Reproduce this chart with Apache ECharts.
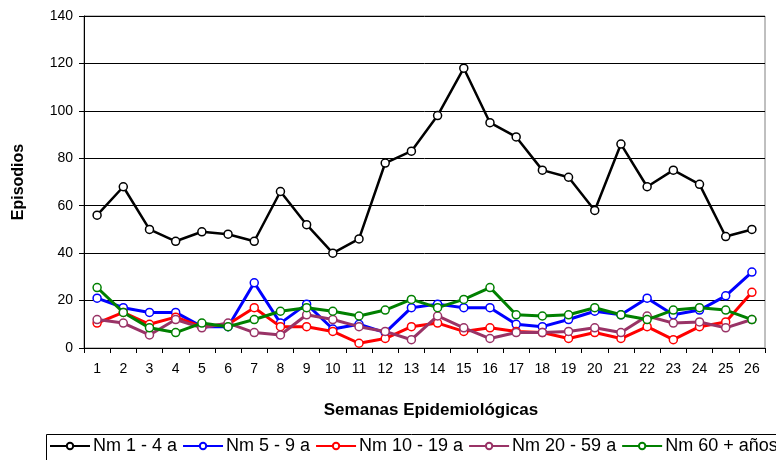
<!DOCTYPE html>
<html><head><meta charset="utf-8">
<script src="https://cdn.jsdelivr.net/npm/echarts@6/dist/echarts.min.js"></script>
<style>html,body{margin:0;padding:0;background:#fff}#c{width:776px;height:460px}</style>
</head><body><div id="c"></div>
<script>
var weeks = ['1','2','3','4','5','6','7','8','9','10','11','12','13','14','15','16','17','18','19','20','21','22','23','24','25','26'];
var nm1_4 = [56,68,50,45,49,48,45,66,52,40,46,78,83,98,118,95,89,75,72,58,86,68,75,69,47,50];
var nm5_9 = [21,17,15,15,9,9,27.5,10.5,18.5,8,10,6.5,17,18.5,17,17,10,9,12,15.5,14,21,14,16,22,32];
var nm10_19 = [10.5,15,10,13,9,10,17,9,9,7,2,4,9,10.5,7,8.5,7,6.5,4,6.5,4,9,3.5,9,11,23.5];
var nm20_59 = [12,10.5,5.5,12,8.5,10.5,6.5,5.5,14,12,9,7,3.5,13.5,8.5,4,6.5,6.5,7,8.5,6.5,13.5,10.5,11,8.5,12];
var nm60 = [25.5,15,8.5,6.5,10.5,9,12,15.5,17,15.5,13.5,16,20.5,17,20.5,25.5,14,13.5,14,17,14,12,16,17,16,12];
var seriesNames = ['Nm 1 - 4 a','Nm 5 - 9 a','Nm 10 - 19 a','Nm 20 - 59 a','Nm 60 + años'];
var yTicks = {min:0, max:140, interval:20};

var colors = ['#000000','#0000FF','#FF0000','#993366','#008000'];
var datas = [nm1_4, nm5_9, nm10_19, nm20_59, nm60];
var FONT = '"Liberation Sans", Arial, sans-serif';

var series = datas.map(function(d,i){
  return {
    name: seriesNames[i], type:'line', data:d,
    symbol:'circle', symbolSize: 8,
    lineStyle:{color:colors[i], width: i===0?2.5:3},
    itemStyle:{color:'#ffffff', borderColor:colors[i], borderWidth:1.5},
    emphasis:{disabled:true}, animation:false, z: 2+i
  };
});

var chart = echarts.init(document.getElementById('c'));
chart.setOption({
  animation:false,
  backgroundColor:'#ffffff',
  grid:{left:84, right:11, top:16, bottom:112, show:true, borderColor:'#808080', borderWidth:1, backgroundColor:'transparent'},
  xAxis:{
    type:'category', data:weeks, boundaryGap:true,
    name:'Semanas Epidemiológicas', nameLocation:'middle', nameGap:54,
    nameTextStyle:{fontFamily:FONT, fontSize:17, fontWeight:'bold', color:'#000', padding:[0,0,0,13]},
    axisLine:{lineStyle:{color:'#000', width:1}},
    axisTick:{show:true, length:5, interval:0, lineStyle:{color:'#000'}},
    axisLabel:{interval:0, fontFamily:FONT, fontSize:14, color:'#000', margin:14},
    splitLine:{show:false}
  },
  yAxis:{
    type:'value', min:yTicks.min, max:yTicks.max, interval:yTicks.interval,
    name:'Episodios', nameLocation:'middle', nameGap:57,
    nameTextStyle:{fontFamily:FONT, fontSize:16, fontWeight:'bold', color:'#000'},
    axisLine:{show:true, lineStyle:{color:'#000', width:1}},
    axisTick:{show:true, length:5, lineStyle:{color:'#000'}},
    axisLabel:{fontFamily:FONT, fontSize:14, color:'#000', margin:11},
    splitLine:{show:true, lineStyle:{color:'#000', width:1}}
  },
  legend:{
    data:seriesNames, left:44, top:432, width:1200, padding:[5,5,5,5],
    itemWidth:40, itemHeight:8, itemGap:5,
    textStyle:{fontFamily:FONT, fontSize:18, color:'#000', padding:[0,0,0,-2]}
  },
  graphic:[{type:'rect', left:44, top:432, shape:{width:730, height:40}, style:{fill:'none', stroke:'#000', lineWidth:1}, silent:true}],
  series:series
});
</script></body></html>
